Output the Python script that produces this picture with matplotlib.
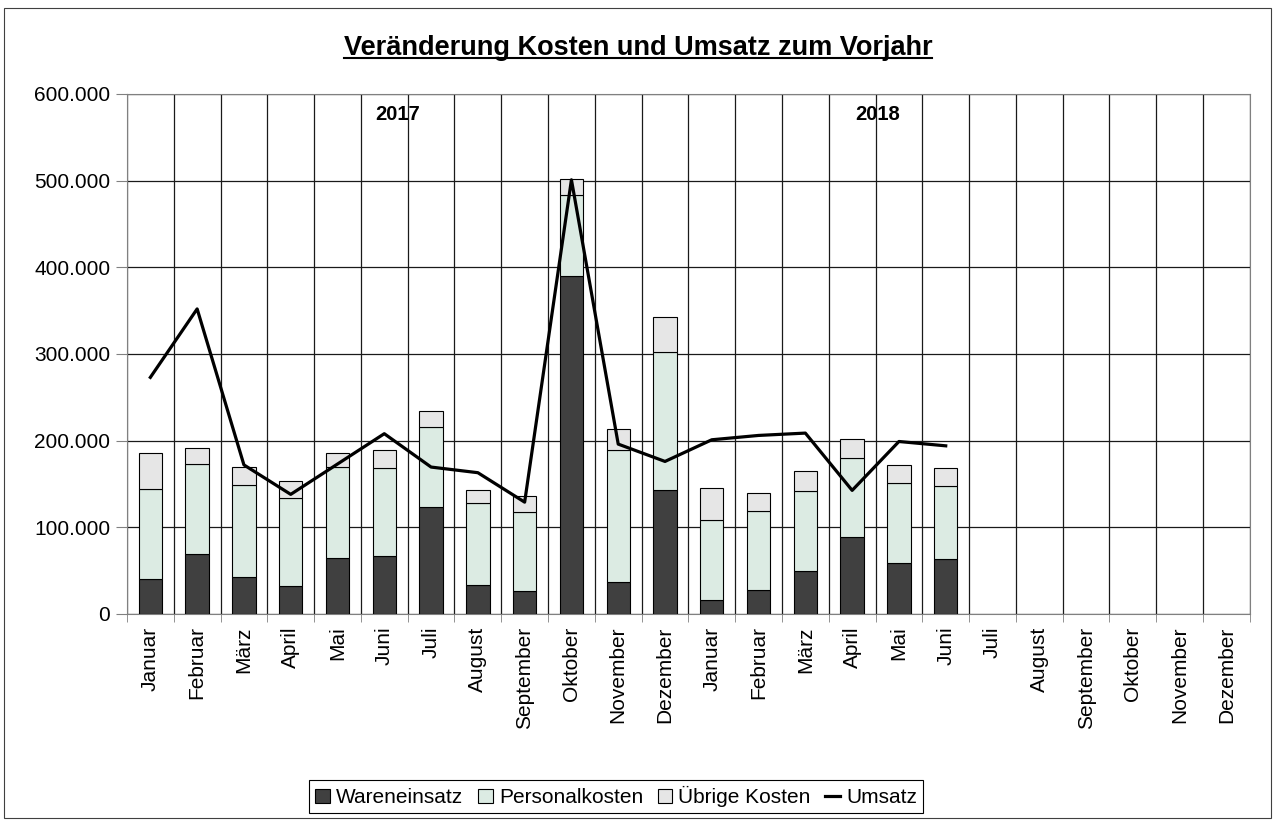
import matplotlib
matplotlib.use('Agg')
import matplotlib.pyplot as plt
import numpy as np
from matplotlib.patches import Patch, Rectangle
from matplotlib.lines import Line2D
from matplotlib.ticker import FuncFormatter, MultipleLocator

plt.rcParams['font.family'] = ['Liberation Sans', 'DejaVu Sans']

# Monate (2017 und 2018)
monate = ['Januar', 'Februar', 'März', 'April', 'Mai', 'Juni', 'Juli', 'August',
          'September', 'Oktober', 'November', 'Dezember'] * 2

# Werte in Tausend (nan = noch keine Daten)
nan = np.nan
wareneinsatz = [40, 69, 43, 32, 65, 66.5, 123, 33, 26.5, 390, 36.5, 143.3,
                16.5, 28, 49.6, 89, 58.4, 63.8, nan, nan, nan, nan, nan, nan]
personal_oben = [144, 173, 149, 134, 169, 168, 216, 128, 117.6, 483.5, 188.7, 301.7,
                 108.4, 119, 142, 179.5, 151.4, 148, nan, nan, nan, nan, nan, nan]
gesamt = [186, 191, 169.5, 153, 186, 189, 234, 143, 136, 501.5, 214, 343,
          145.7, 139.5, 164.5, 201.8, 171.8, 168, nan, nan, nan, nan, nan, nan]
umsatz = [273, 352, 172, 138, 173, 208, 169.5, 163, 129, 501, 196, 176,
          201, 206, 208.7, 142.6, 199, 194, nan, nan, nan, nan, nan, nan]

ware = np.array(wareneinsatz) * 1000
personal = (np.array(personal_oben) - np.array(wareneinsatz)) * 1000
uebrige = (np.array(gesamt) - np.array(personal_oben)) * 1000
ums = np.array(umsatz) * 1000

x = np.arange(len(monate))

fig = plt.figure(figsize=(12.76, 8.23), dpi=100)
ax = fig.add_axes([0.0995, 0.254, 0.8800, 0.6318])

c_ware = '#404040'
c_pers = '#dcebe3'
c_uebr = '#e6e6e6'
b = 0.5
ax.bar(x, ware, b, color=c_ware, edgecolor='black', linewidth=0.8, zorder=3)
ax.bar(x, personal, b, bottom=ware, color=c_pers, edgecolor='black', linewidth=0.8, zorder=3)
ax.bar(x, uebrige, b, bottom=ware + personal, color=c_uebr, edgecolor='black', linewidth=0.8, zorder=3)
ax.plot(x, ums, color='black', linewidth=2.3, zorder=4)

ax.set_xlim(-0.5, len(monate) - 0.5)
ax.set_ylim(0, 600000)
ax.yaxis.set_major_locator(MultipleLocator(100000))
ax.yaxis.set_major_formatter(FuncFormatter(lambda v, p: f"{int(v):,}".replace(',', '.')))
ax.set_xticks(x)
ax.set_xticklabels(monate, rotation=90, fontsize=15)
ax.set_xticks(np.arange(len(monate) + 1) - 0.5, minor=True)
ax.tick_params(axis='x', which='major', length=0, pad=9)
ax.tick_params(axis='x', which='minor', length=6, color='#808080')
ax.tick_params(axis='y', length=8, color='#808080', labelsize=15, pad=4)
ax.grid(True, axis='y', which='major', color='#1a1a1a', linewidth=0.9, zorder=0)
ax.grid(True, axis='x', which='minor', color='#1a1a1a', linewidth=0.9, zorder=0)
ax.set_axisbelow(True)
for s in ax.spines.values():
    s.set_color('#808080')

ax.text(5.28, 576000, '2017', fontsize=14.5, fontweight='bold', ha='center', va='center')
ax.text(15.55, 576000, '2018', fontsize=14.5, fontweight='bold', ha='center', va='center')

# Titel mit Unterstrich
titel = fig.text(0.5, 0.942, 'Veränderung Kosten und Umsatz zum Vorjahr',
                 fontsize=19.5, fontweight='bold', ha='center', va='center')
fig.canvas.draw()
bb = titel.get_window_extent().transformed(fig.transFigure.inverted())
fig.add_artist(Line2D([bb.x0, bb.x1], [bb.y0 + 0.003, bb.y0 + 0.003],
                      transform=fig.transFigure, color='black', linewidth=1.5))

# Legende
handles = [Patch(facecolor=c_ware, edgecolor='black', linewidth=0.8),
           Patch(facecolor=c_pers, edgecolor='black', linewidth=0.8),
           Patch(facecolor=c_uebr, edgecolor='black', linewidth=0.8),
           Line2D([0], [0], color='black', linewidth=2.3)]
leg = fig.legend(handles, ['Wareneinsatz', 'Personalkosten', 'Übrige Kosten', 'Umsatz'],
                 loc='center', bbox_to_anchor=(0.483, 0.032), ncol=4, fontsize=15,
                 fancybox=False, edgecolor='black', framealpha=1,
                 handlelength=0.7, handleheight=0.7, handletextpad=0.3, columnspacing=0.7,
                 borderpad=0.3)
leg.get_frame().set_linewidth(0.8)

# Rahmen um die ganze Grafik
fig.add_artist(Rectangle((0.003, 0.006), 0.993, 0.984, transform=fig.transFigure,
                         fill=False, edgecolor='#404040', linewidth=0.8))

fig.savefig('out.png', dpi=100)
